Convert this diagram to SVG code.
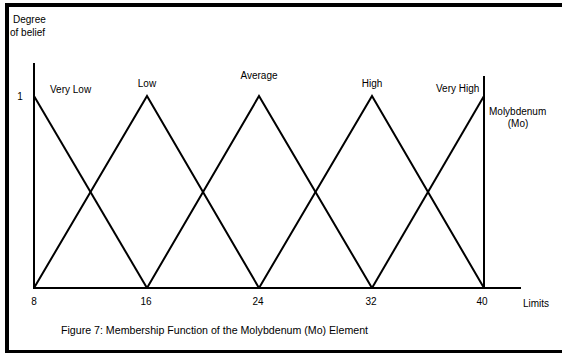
<svg xmlns="http://www.w3.org/2000/svg" width="562" height="353" viewBox="0 0 562 353">
<style>
text{font-family:"Liberation Sans",Arial,sans-serif;font-size:10px;fill:#000}
.ln{stroke:#000;stroke-width:2;fill:none;stroke-linejoin:miter}
.frame{fill:#000}
</style>
<rect width="562" height="353" fill="#fff"/>
<g id="frame">
<rect class="frame" x="5" y="3" width="557" height="4"/>
<rect class="frame" x="5" y="3" width="4" height="350"/>
<rect class="frame" x="5" y="350" width="557" height="3"/>
</g>
<g id="axes">
<line class="ln" x1="34" y1="63" x2="34" y2="289"/>
<line class="ln" x1="33" y1="288" x2="521" y2="288"/>
<line class="ln" x1="484" y1="76" x2="484" y2="289"/>
</g>
<g id="connectors">
<polyline id="very-low" class="ln" points="34,96 147,288"/>
<polyline id="low" class="ln" points="34,288 147,96 259,288"/>
<polyline id="average" class="ln" points="147,288 259,96 372,288"/>
<polyline id="high" class="ln" points="259,288 372,96 484,288"/>
<polyline id="very-high" class="ln" points="372,288 484,96"/>
</g>
<g id="labels">
<text x="13" y="23">Degree</text>
<text x="10" y="36">of belief</text>
<text x="20" y="100" text-anchor="middle">1</text>
<text x="50" y="93">Very Low</text>
<text x="147" y="87" text-anchor="middle">Low</text>
<text x="259" y="79" text-anchor="middle">Average</text>
<text x="372" y="87" text-anchor="middle">High</text>
<text x="436" y="92">Very High</text>
<text x="489" y="115">Molybdenum</text>
<text x="518" y="127" text-anchor="middle">(Mo)</text>
<text x="34" y="305" text-anchor="middle">8</text>
<text x="146" y="305" text-anchor="middle">16</text>
<text x="258" y="305" text-anchor="middle">24</text>
<text x="371" y="305" text-anchor="middle">32</text>
<text x="482" y="305" text-anchor="middle">40</text>
<text x="523" y="307">Limits</text>
<text x="61" y="334" font-size="9" textLength="307" lengthAdjust="spacingAndGlyphs">Figure 7: Membership Function of the Molybdenum (Mo) Element</text>
</g>
</svg>
